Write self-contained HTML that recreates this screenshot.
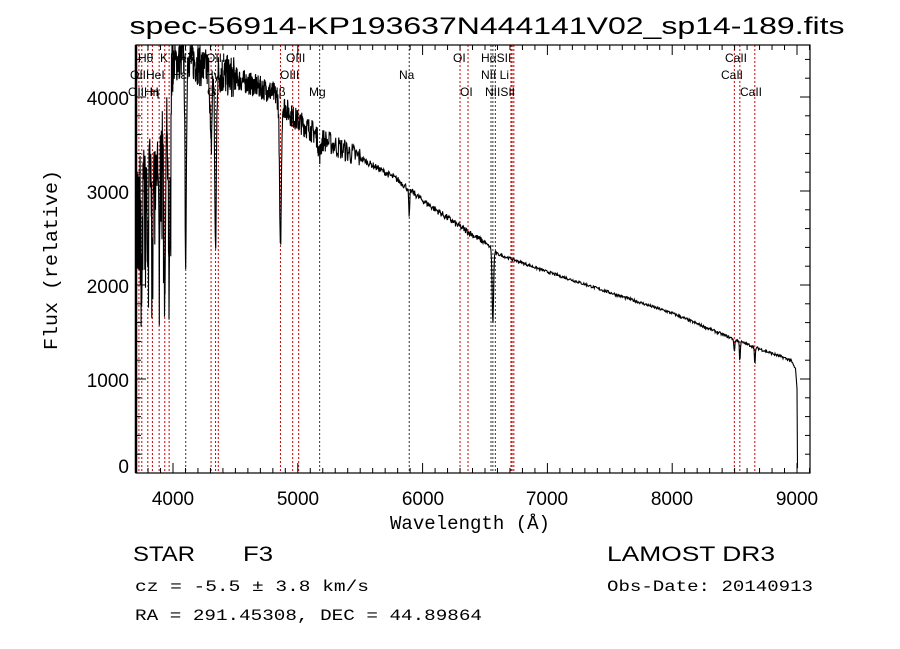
<!DOCTYPE html>
<html><head><meta charset="utf-8"><style>
html,body{margin:0;padding:0;background:#fff;}
svg{display:block;}
text{font-family:"Liberation Sans",sans-serif;fill:#000;}
.s{font-family:"Liberation Serif",serif;font-size:12px;}
.m{font-family:"Liberation Mono",monospace;}
</style></head><body>
<svg id="c" width="900" height="649" viewBox="0 0 900 649" xmlns="http://www.w3.org/2000/svg">
<defs><clipPath id="cp"><rect x="136" y="45" width="674" height="428"/></clipPath></defs>
<rect width="900" height="649" fill="#fff"/>
<g id="lines"></g>
<polyline id="spec" clip-path="url(#cp)" fill="none" stroke="#000" stroke-width="1.1" points=""/>
<rect x="136" y="45" width="674" height="428" fill="none" stroke="#000" stroke-width="1.2"/>
<line x1="136" y1="45" x2="136" y2="473" stroke="#000" stroke-width="2.5"/>
<g id="ticks" stroke="#000" stroke-width="1"></g>
<text x="487" y="34" font-size="24" text-anchor="middle" textLength="715" lengthAdjust="spacingAndGlyphs">spec-56914-KP193637N444141V02_sp14-189.fits</text>
<g font-size="19" text-anchor="middle">
<text x="173" y="505">4000</text><text x="298" y="505">5000</text><text x="423" y="505">6000</text>
<text x="547" y="505">7000</text><text x="672" y="505">8000</text><text x="797" y="505">9000</text>
</g>
<g font-size="19" text-anchor="end">
<text x="129" y="473">0</text><text x="129" y="387">1000</text><text x="129" y="293">2000</text>
<text x="129" y="199">3000</text><text x="129" y="105">4000</text>
</g>
<text x="470" y="529" font-size="19" class="m" text-anchor="middle" textLength="160" lengthAdjust="spacingAndGlyphs">Wavelength (Å)</text>
<text transform="translate(57,260) rotate(-90)" class="m" font-size="19" text-anchor="middle" textLength="180" lengthAdjust="spacingAndGlyphs">Flux (relative)</text>
<text x="133" y="561" font-size="21" textLength="62" lengthAdjust="spacingAndGlyphs">STAR</text>
<text x="243" y="561" font-size="21" textLength="30" lengthAdjust="spacingAndGlyphs">F3</text>
<text x="607" y="561" font-size="21" textLength="168" lengthAdjust="spacingAndGlyphs">LAMOST DR3</text>
<text x="135" y="591" class="m" font-size="16" textLength="234" lengthAdjust="spacingAndGlyphs">cz = -5.5 ± 3.8 km/s</text>
<text x="607" y="591" class="m" font-size="16" textLength="206" lengthAdjust="spacingAndGlyphs">Obs-Date: 20140913</text>
<text x="135" y="620" class="m" font-size="16" textLength="347" lengthAdjust="spacingAndGlyphs">RA = 291.45308, DEC =  44.89864</text>
<g id="labs" class="s"></g>
</svg>
<script>
var X=function(l){return 173+(l-4000)*0.1248;}, Y=function(f){return 473-f*0.094;};
var ns="http://www.w3.org/2000/svg";
function el(p,t,a,txt){var e=document.createElementNS(ns,t);for(var k in a)e.setAttribute(k,a[k]);if(txt)e.textContent=txt;document.getElementById(p).appendChild(e);}
for(var l=3800;l<=9100;l+=100){var maj=l%1000==0,h=maj?10:5;
el('ticks','line',{x1:X(l),y1:473,x2:X(l),y2:473-h});el('ticks','line',{x1:X(l),y1:45,x2:X(l),y2:45+h});}
for(var f=0;f<=4500;f+=200){var maj=f%1000==0,h=maj?10:5;
el('ticks','line',{x1:136,y1:Y(f),x2:136+h,y2:Y(f)});el('ticks','line',{x1:810,y1:Y(f),x2:810-h,y2:Y(f)});}
var L=[[3727,'r'],[3750,'r'],[3798,'r'],[3835,'r'],[3889,'r'],[3934,'r'],[3969,'r'],[4102,'k'],[4305,'r'],[4341,'r'],[4363,'r'],[4861,'r'],[4959,'r'],[5007,'r'],[5175,'k'],[5893,'k'],[6300,'r'],[6364,'r'],[6548,'k'],[6563,'k'],[6583,'k'],[6708,'r'],[6717,'r'],[6731,'r'],[8498,'r'],[8542,'r'],[8662,'r']];
L.forEach(function(a){el('lines','line',{x1:X(a[0]),y1:45,x2:X(a[0]),y2:473,stroke:a[1]=='r'?'#c00':'#333','stroke-width':1,'stroke-dasharray':'2,2'});});
var T=[[138,58,'Hθ'],[160,58,'K'],[178,58,'Hδ'],[206,58,'OIII'],[286,58,'OIII'],[453,58,'OI'],[481,58,'HαSII'],[725,58,'CaII'],
[130,75,'OIIHeI'],[172,75,'HεI'],[205,75,'Hγ'],[280,75,'OIII'],[399,75,'Na'],[481,75,'NII Li'],[721,75,'CaII'],
[128,92,'OIIHη'],[150,92,'H'],[207,92,'G'],[270,92,'Hβ'],[309,92,'Mg'],[460,92,'OI'],[485,92,'NIISII'],[740,92,'CaII']];
T.forEach(function(t){el('labs','text',{x:t[0],y:t[1]+4},t[2]);});
var seed=7;function rnd(){seed=(seed*16807)%2147483647;return seed/2147483647-0.5;}
var C=[[3700,3000],[3850,3300],[3950,3700],[4000,4350],[4100,4450],[4250,4300],[4500,4200],[4800,4050],[4950,3800],[5200,3550],[5500,3350],[5800,3120],[6000,2900],[6300,2620],[6500,2450],[6600,2330],[7000,2140],[7500,1920],[8000,1700],[8500,1420],[8700,1320],[8950,1200],[8990,1100]];
function cont(l){for(var i=0;i<C.length-1;i++)if(l<=C[i+1][0]){var t=(l-C[i][0])/(C[i+1][0]-C[i][0]);return C[i][1]+t*(C[i+1][1]-C[i][1]);}return 1100;}
var A=[[3750,.35,6],[3798,.35,6],[3835,.35,7],[3889,.3,7],[3934,.5,8],[3969,.5,8],[4102,.5,8],[4305,.2,10],[4341,.45,9],[4861,.4,10],[5175,.05,15],[5893,.1,6],[6563,.33,8],[8498,.1,5],[8542,.15,5],[8662,.15,5]];
var pts=[[X(3700),Y(0)],[X(3701),Y(1200)]];
for(var l=3704;l<=8990;l+=(l<5200?2:4)){var f=cont(l);
var nz=l<4000?700:l<4500?450:l<5500?250:l<6500?70:30;f+=rnd()*nz;
A.forEach(function(a){var d=(l-a[0])/a[2];f*=1-a[1]*Math.exp(-d*d);});
if(l<3990&&rnd()>0.3)f*=0.8+rnd()*0.4;
pts.push([X(l),Y(Math.max(f,0))]);}
pts.push([X(9000),Y(900)]);pts.push([X(9004),Y(50)]);
document.getElementById('spec').setAttribute('points',pts.map(function(p){return p[0].toFixed(1)+','+p[1].toFixed(1);}).join(' '));
</script>
</body></html>
